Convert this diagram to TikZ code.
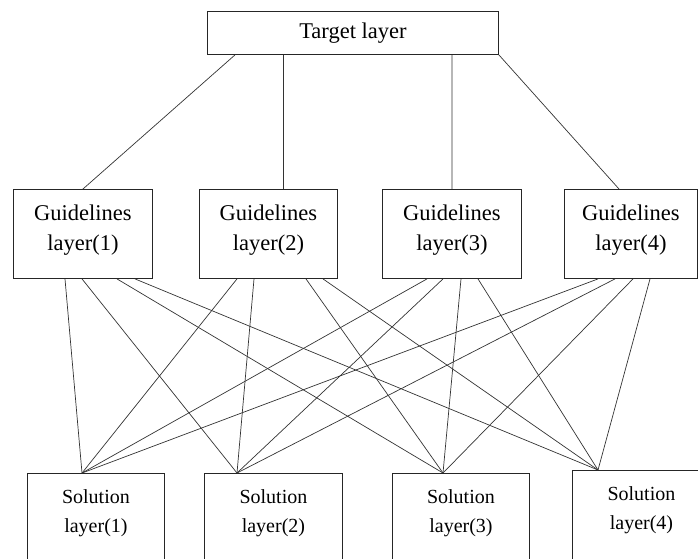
\documentclass[tikz,border=0pt]{standalone}
\usepackage{fontspec}
\setmainfont{Liberation Serif}
\usetikzlibrary{positioning,calc}

\tikzset{
	box/.style={draw=black!85,line width=0.9pt,inner sep=0pt,anchor=north west},
	guide/.style={box,minimum width=139pt,minimum height=89pt,align=center,text depth=13pt,font=\fontsize{22.5}{30}\selectfont},
	solbox/.style={box,minimum width=137pt,minimum height=110pt},
	soltxt/.style={align=center,font=\fontsize{20}{29}\selectfont},
	link/.style={draw=black!80,line width=0.7pt}
}

\begin{document}
\begin{tikzpicture}[x=1pt,y=-1pt]
	\useasboundingbox (0,0) rectangle (698,558);
	\clip (0,0) rectangle (698,558);
	% target layer
	\node[box,minimum width=291pt,minimum height=43pt,font=\fontsize{22.5}{27}\selectfont] (target) at (207,11) {Target layer};
	% guidelines layers
	\node[guide] (g1) at (13,189) {Guidelines\\layer(1)};
	\node[guide,minimum width=138pt] (g2) at (199,189) {Guidelines\\layer(2)};
	\node[guide] (g3) at (382,189) {Guidelines\\layer(3)};
	\node[guide,minimum width=133pt] (g4) at (564,189) {Guidelines\\layer(4)};
	% solution layers
	\node[solbox] (s1) at (27,473) {};
	\node[solbox,minimum width=138pt] (s2) at (204,473) {};
	\node[solbox] (s3) at (392,473) {};
	\node[solbox,minimum width=138pt] (s4) at (572,470) {};
	\node[soltxt] (t1) at ($(s1.north)+(0,40)$) {Solution\\layer(1)};
	\node[soltxt] (t2) at ($(s2.north)+(0,40)$) {Solution\\layer(2)};
	\node[soltxt] (t3) at ($(s3.north)+(0,40)$) {Solution\\layer(3)};
	\node[soltxt] (t4) at ($(s4.north)+(0,40)$) {Solution\\layer(4)};
	\coordinate (s1top) at ($(s1.north west)+(55,0)$);
	\coordinate (s2top) at ($(s2.north west)+(33,0)$);
	\coordinate (s3top) at ($(s3.north west)+(51,0)$);
	\coordinate (s4top) at ($(s4.north west)+(26,0)$);
	% target to guidelines
	\draw[link] ($(target.south west)+(28,0)$) -- (g1.north);
	\draw[link] ($(target.south west)+(76,0)$) -- ($(g2.north west)+(84,0)$);
	\draw[link] ($(target.south west)+(245,0)$) -- (g3.north);
	\draw[link] (target.south east) -- ($(g4.north west)+(55,0)$);
	% guidelines to solutions
	\draw[link] ($(g1.south west)+(52,0)$) -- (s1top);
	\draw[link] ($(g1.south west)+(69,0)$) -- (s2top);
	\draw[link] ($(g1.south west)+(104,0)$) -- (s3top);
	\draw[link] ($(g1.south west)+(122,0)$) -- (s4top);
	\draw[link] ($(g2.south west)+(38,0)$) -- (s1top);
	\draw[link] ($(g2.south west)+(55,0)$) -- (s2top);
	\draw[link] ($(g2.south west)+(107,0)$) -- (s3top);
	\draw[link] ($(g2.south west)+(124,0)$) -- (s4top);
	\draw[link] ($(g3.south west)+(45,0)$) -- (s1top);
	\draw[link] ($(g3.south west)+(61,0)$) -- (s2top);
	\draw[link] ($(g3.south west)+(79,0)$) -- (s3top);
	\draw[link] ($(g3.south west)+(96,0)$) -- (s4top);
	\draw[link] ($(g4.south west)+(34,0)$) -- (s1top);
	\draw[link] ($(g4.south west)+(51,0)$) -- (s2top);
	\draw[link] ($(g4.south west)+(69,0)$) -- (s3top);
	\draw[link] ($(g4.south west)+(86,0)$) -- (s4top);
\end{tikzpicture}
\end{document}
